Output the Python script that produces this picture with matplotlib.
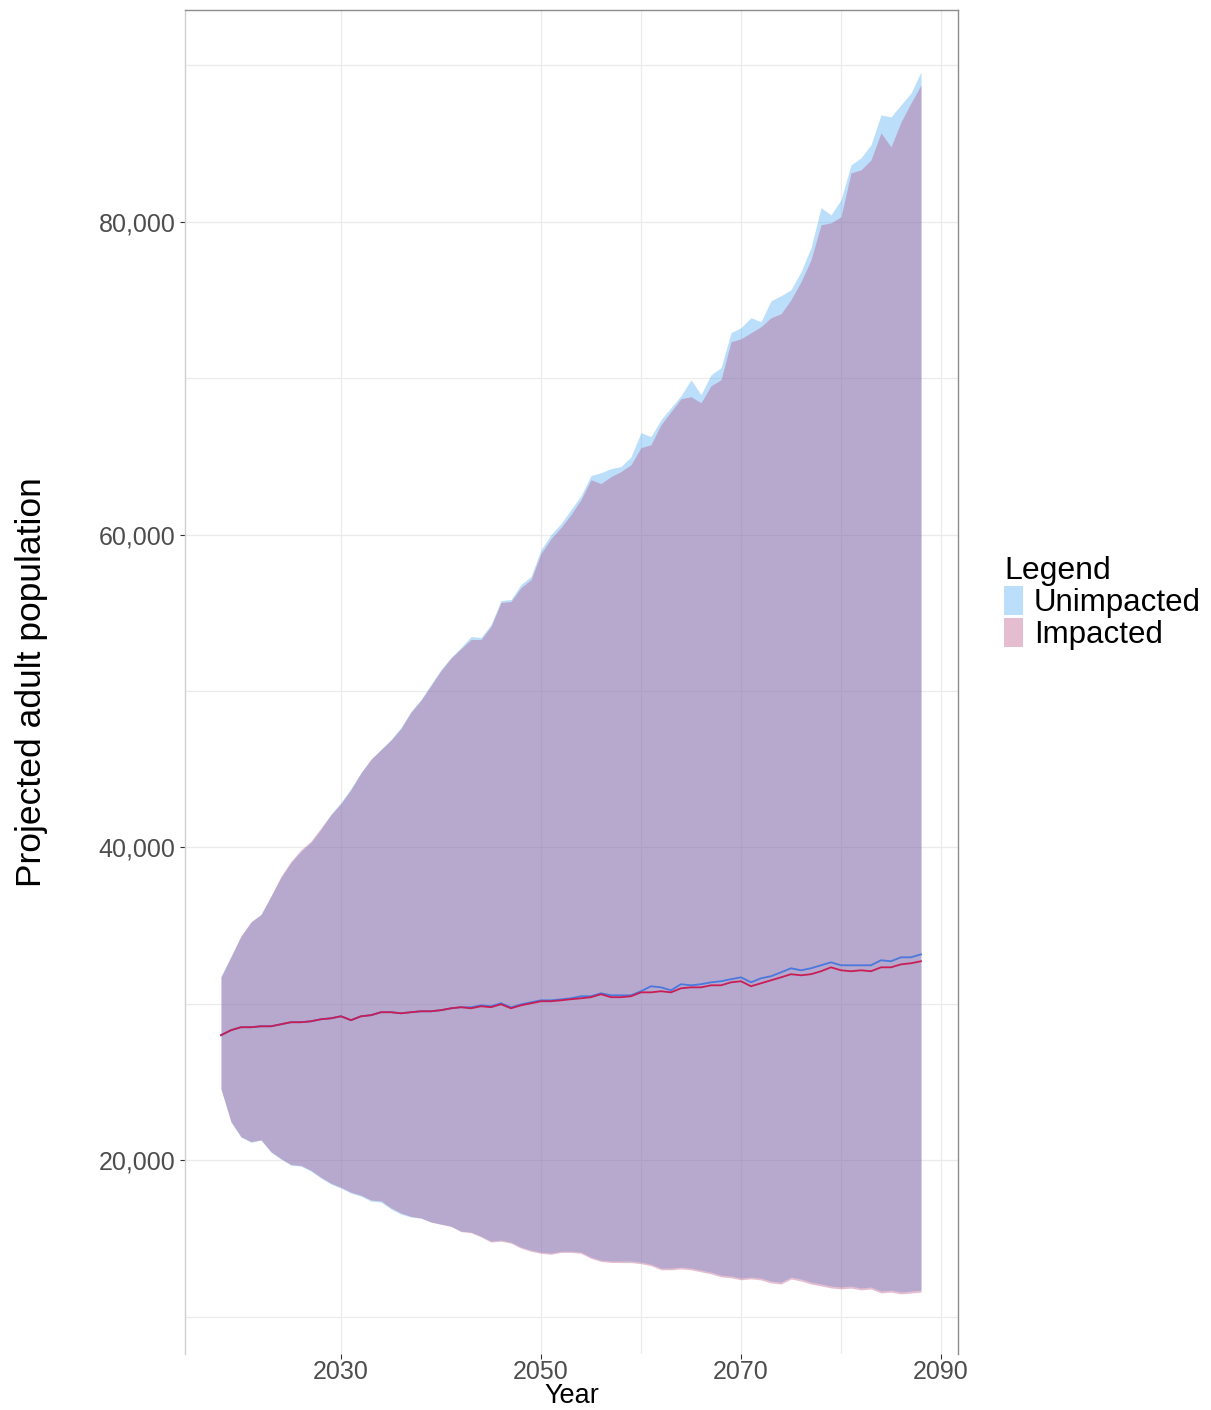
import numpy as np
import matplotlib

matplotlib.use("Agg")
import matplotlib.pyplot as plt
from matplotlib.patches import Patch
from matplotlib.ticker import FuncFormatter, MultipleLocator

plt.rcParams['font.family'] = ['Liberation Sans', 'DejaVu Sans']

# ========= data =========
years = np.arange(2018, 2089)

unimp_hi = [
    31760, 33040, 34310, 35210, 35720, 36870, 38080, 39040, 39740, 40320,
    41150, 42110, 42880, 43770, 44790, 45620, 46260, 46900, 47670, 48690,
    49460, 50420, 51370, 52140, 52780, 53480, 53420, 54250, 55780, 55850,
    56810, 57320, 59040, 60000, 60700, 61600, 62490, 63770, 63960, 64220,
    64350, 64980, 66520, 66260, 67350, 68120, 68880, 69900, 68950, 70220,
    70670, 72910, 73230, 73870, 73610, 74950, 75270, 75660, 76810, 78340,
    80900, 80450, 81410, 83640, 84090, 84920, 86840, 86710, 87480, 88240,
    89590,
]
imp_hi = [
    31700, 33000, 34350, 35250, 35700, 36900, 38150, 39100, 39850, 40400,
    41250, 42100, 42800, 43700, 44750, 45650, 46250, 46850, 47600, 48650,
    49400, 50350, 51300, 52100, 52700, 53290, 53290, 54120, 55660, 55720,
    56610, 57120, 58790, 59740, 60450, 61280, 62240, 63510, 63260, 63710,
    64030, 64470, 65560, 65750, 67030, 67860, 68690, 68820, 68430, 69520,
    69900, 72330, 72520, 72910, 73290, 73870, 74120, 75020, 76170, 77570,
    79810, 79940, 80320, 83130, 83320, 83960, 85690, 84790, 86390, 87600,
    88750,
]
unimp_lo = [
    24540, 22430, 21470, 21150, 21280, 20510, 20060, 19680, 19620, 19300,
    18850, 18470, 18210, 17890, 17700, 17380, 17320, 16870, 16550, 16360,
    16290, 16040, 15910, 15780, 15460, 15400, 15140, 14820, 14890, 14760,
    14440, 14250, 14120, 14060, 14180, 14180, 14120, 13800, 13610, 13550,
    13550, 13550, 13480, 13350, 13100, 13100, 13160, 13100, 12970, 12840,
    12650, 12590, 12460, 12520, 12460, 12270, 12200, 12520, 12400, 12200,
    12080, 11950, 11890, 11950, 11820, 11890, 11630, 11690, 11570, 11630,
    11690,
]
imp_lo = [
    24560, 22460, 21500, 21180, 21300, 20540, 20100, 19720, 19660, 19350,
    18900, 18520, 18260, 17950, 17760, 17450, 17400, 16950, 16620, 16400,
    16300, 16040, 15900, 15760, 15430, 15360, 15090, 14760, 14820, 14690,
    14370, 14170, 14040, 13980, 14100, 14100, 14040, 13720, 13520, 13460,
    13450, 13450, 13380, 13250, 12990, 12990, 13050, 12990, 12860, 12730,
    12540, 12480, 12350, 12410, 12340, 12150, 12080, 12400, 12270, 12080,
    11960, 11830, 11770, 11820, 11700, 11760, 11510, 11560, 11450, 11500,
    11560,
]
unimp_mean = [
    27990, 28310, 28500, 28500, 28560, 28560, 28690, 28820, 28820, 28880,
    29010, 29070, 29200, 28950, 29200, 29270, 29460, 29460, 29390, 29460,
    29520, 29520, 29590, 29710, 29780, 29770, 29900, 29840, 30030, 29770,
    29960, 30090, 30220, 30220, 30280, 30350, 30480, 30480, 30670, 30540,
    30540, 30540, 30800, 31120, 31050, 30860, 31250, 31180, 31250, 31370,
    31440, 31570, 31690, 31370, 31630, 31760, 32010, 32270, 32140, 32270,
    32460, 32650, 32460, 32460, 32460, 32460, 32780, 32720, 32970, 32970,
    33160,
]
imp_mean = [
    27990, 28310, 28500, 28500, 28560, 28560, 28690, 28820, 28820, 28880,
    29010, 29070, 29200, 28950, 29200, 29270, 29460, 29460, 29390, 29460,
    29520, 29520, 29590, 29710, 29780, 29710, 29840, 29780, 29970, 29710,
    29900, 30030, 30160, 30160, 30220, 30290, 30350, 30420, 30610, 30420,
    30420, 30480, 30730, 30730, 30800, 30730, 30990, 31050, 31050, 31180,
    31180, 31370, 31440, 31120, 31310, 31500, 31690, 31890, 31820, 31890,
    32080, 32330, 32140, 32080, 32140, 32080, 32330, 32330, 32520, 32590,
    32720,
]

labels = ['Unimpacted', 'Impacted']
fill_colors = ['#3DA1F4', '#B24579']
line_colors = ['#4A78DD', '#C81E55']
fill_alpha = 0.35

# ========= figure =========
W, H = 1211, 1410
fig = plt.figure(figsize=(W / 100, H / 100), dpi=100)
ax = fig.add_axes([185 / W, 1 - 1354 / H, (958 - 185) / W, (1354 - 10) / H])

ax.fill_between(years, unimp_lo, unimp_hi, color=fill_colors[0],
                alpha=fill_alpha, linewidth=0, zorder=2)
ax.fill_between(years, imp_lo, imp_hi, color=fill_colors[1],
                alpha=fill_alpha, linewidth=0, zorder=3)
ax.plot(years, unimp_mean, color=line_colors[0], linewidth=1.3, zorder=4)
ax.plot(years, imp_mean, color=line_colors[1], linewidth=1.3, zorder=5)

ax.set_xlim(2014.4, 2091.7)
ax.set_ylim(7604, 93546)

ax.set_xticks([2030, 2050, 2070, 2090])
ax.set_yticks([20000, 40000, 60000, 80000])
ax.yaxis.set_minor_locator(MultipleLocator(10000))
ax.set_xticks([2060, 2080], minor=True)
ax.yaxis.set_major_formatter(FuncFormatter(lambda v, p: f"{int(v):,}"))

ax.grid(True, which='both', color='#EBEBEB', linewidth=0.9, zorder=1)
ax.set_axisbelow(True)

ax.tick_params(axis='both', which='major', labelsize=18, labelcolor='#4D4D4D',
               color='#333333', length=3.5, width=0.8)
ax.tick_params(axis='both', which='minor', length=0)
ax.tick_params(axis='x', pad=1)

ax.set_xlabel('Year', fontsize=19.5, labelpad=-1)
ax.set_ylabel('Projected adult population', fontsize=25.5, labelpad=36)

ax.spines['top'].set_color('#8C8C8C')
ax.spines['right'].set_color('#8C8C8C')
ax.spines['left'].set_color('#D0D0D0')
ax.spines['bottom'].set_visible(False)
for s in ax.spines.values():
    s.set_linewidth(1.0)

handles = [Patch(facecolor=c, alpha=fill_alpha, edgecolor='none') for c in fill_colors]
leg = fig.legend(handles, labels, title='Legend', loc='upper left',
                 bbox_to_anchor=(1004 / W, 1 - 556 / H), frameon=False,
                 fontsize=22.5, title_fontsize=23, alignment='left',
                 handlelength=0.6, handleheight=1.05, handletextpad=0.35,
                 labelspacing=0.0, borderpad=0, borderaxespad=0)

fig.savefig('out.png', dpi=100)
plt.close(fig)
